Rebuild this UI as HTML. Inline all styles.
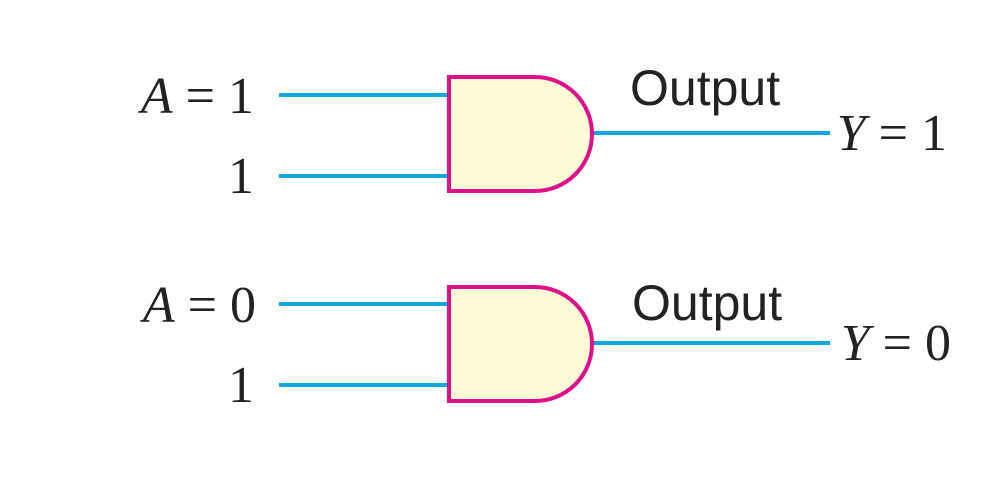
<!DOCTYPE html>
<html><head><style>html,body{margin:0;padding:0;background:#fff}
.s{font-family:"Liberation Serif","Times New Roman",serif;font-size:52px;fill:#222}
.o{font-family:"Liberation Sans",Arial,sans-serif;font-size:50px;fill:#222}
</style></head><body>
<svg width="1008" height="491" viewBox="0 0 1008 491" xmlns="http://www.w3.org/2000/svg">
<g stroke="#0fa8e0" stroke-width="4" fill="none">
<line x1="279" y1="95" x2="449" y2="95"/><line x1="279" y1="176" x2="449" y2="176"/><line x1="590" y1="133" x2="830" y2="133"/>
<line x1="279" y1="304" x2="449" y2="304"/><line x1="279" y1="385" x2="449" y2="385"/><line x1="590" y1="343" x2="830" y2="343"/>
</g>
<g stroke="#e0108c" stroke-width="4" fill="#fdfad6">
<path d="M449 77 H535 A57 57 0 0 1 535 191 H449 Z"/>
<path d="M449 287 H535 A57 57 0 0 1 535 401 H449 Z"/>
</g>
<g class="s" text-anchor="end">
<text x="254" y="113"><tspan font-style="italic">A</tspan> = 1</text>
<text x="254" y="193">1</text>
<text x="256" y="322"><tspan font-style="italic">A</tspan> = 0</text>
<text x="254" y="402">1</text>
<text x="947" y="150"><tspan font-style="italic">Y</tspan> = 1</text>
<text x="951" y="360"><tspan font-style="italic">Y</tspan> = 0</text>
</g>
<g class="o">
<text x="630" y="105">Output</text>
<text x="632" y="320">Output</text>
</g>
</svg>
</body></html>
